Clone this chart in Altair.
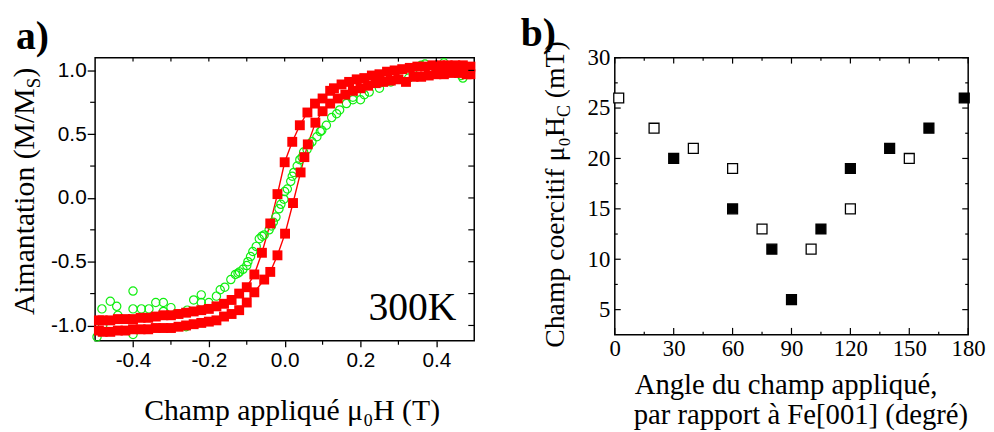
import altair as alt
import pandas as pd

# ---------------- panel a) : hysteresis loops ----------------
# red loop, descending branch (from +0.5 T to -0.5 T)
desc_h = [0.49, 0.47, 0.45, 0.43, 0.41, 0.39, 0.37, 0.35, 0.33, 0.31, 0.29, 0.27, 0.25,
          0.23, 0.21, 0.19, 0.17, 0.15, 0.13, 0.12, 0.10, 0.08, 0.06, 0.04, 0.02, 0.00,
          -0.019, -0.038, -0.06, -0.08, -0.10, -0.12, -0.14, -0.16, -0.18, -0.20, -0.22,
          -0.24, -0.26, -0.28, -0.30, -0.32, -0.34, -0.36, -0.38, -0.40, -0.42, -0.44,
          -0.46, -0.48, -0.49]
desc_m = [1.03, 1.04, 1.04, 1.04, 1.04, 1.04, 1.03, 1.03, 1.02, 1.01, 1.00, 0.99, 0.97,
          0.96, 0.94, 0.93, 0.91, 0.89, 0.86, 0.84, 0.78, 0.74, 0.67, 0.57, 0.44, 0.28,
          0.03, -0.20, -0.43, -0.60, -0.70, -0.75, -0.80, -0.83, -0.85, -0.87, -0.88,
          -0.89, -0.90, -0.91, -0.92, -0.92, -0.93, -0.94, -0.94, -0.95, -0.95, -0.95,
          -0.96, -0.96, -0.96]
# red loop, ascending branch (from -0.5 T to +0.5 T)
asc_h = [-0.49, -0.48, -0.46, -0.44, -0.42, -0.40, -0.38, -0.36, -0.34, -0.32, -0.30,
         -0.28, -0.26, -0.24, -0.22, -0.20, -0.18, -0.16, -0.14, -0.12, -0.10, -0.08,
         -0.054, -0.038, -0.019, 0.001, 0.022, 0.042, 0.052, 0.061, 0.081, 0.10, 0.12,
         0.14, 0.16, 0.18, 0.20, 0.22, 0.24, 0.26, 0.28, 0.30, 0.32, 0.34, 0.36, 0.38,
         0.40, 0.42, 0.44, 0.46, 0.48, 0.49]
asc_m = [-1.04, -1.05, -1.05, -1.04, -1.04, -1.03, -1.03, -1.03, -1.02, -1.02, -1.02,
         -1.01, -1.00, -0.99, -0.98, -0.97, -0.96, -0.93, -0.91, -0.88, -0.82, -0.74,
         -0.64, -0.58, -0.45, -0.28, -0.04, 0.20, 0.32, 0.42, 0.59, 0.68, 0.74,
         0.78, 0.81, 0.84, 0.86, 0.88, 0.90, 0.91, 0.92, 0.93, 0.91, 0.95, 0.95, 0.96,
         0.97, 0.97, 0.98, 0.98, 0.97, 0.97]
# green open circles
green_h = [-0.495, -0.482, -0.48, -0.46, -0.443, -0.44, -0.40, -0.40, -0.40, -0.378, -0.358,
           -0.34, -0.32, -0.32, -0.30, -0.279, -0.26, -0.257, -0.24, -0.22, -0.22, -0.20,
           -0.18, -0.17, -0.158, -0.142, -0.13, -0.123, -0.119, -0.11, -0.10, -0.097, -0.09,
           -0.084, -0.075, -0.067, -0.06, -0.054, -0.041, -0.035, -0.03, -0.023, -0.015,
           -0.01, -0.002, 0.0, 0.007, 0.016, 0.02, 0.024, 0.033, 0.04, 0.046, 0.05, 0.059,
           0.065, 0.072, 0.085, 0.094, 0.098, 0.11, 0.124, 0.137, 0.145, 0.163, 0.18, 0.18,
           0.20, 0.21, 0.223, 0.25, 0.25, 0.275, 0.28, 0.30, 0.327, 0.34, 0.36, 0.37, 0.40,
           0.42, 0.44, 0.466, 0.47, 0.49]
green_m = [-1.09, -0.87, -1.00, -0.81, -0.85, -0.92, -0.73, -0.87, -1.07, -0.87, -0.87,
           -0.82, -0.82, -0.89, -0.86, -0.91, -1.01, -0.88, -0.80, -0.76, -0.82, -0.82,
           -0.77, -0.72, -0.70, -0.64, -0.60, -0.59, -0.58, -0.56, -0.53, -0.50, -0.46,
           -0.42, -0.38, -0.32, -0.30, -0.29, -0.25, -0.22, -0.19, -0.15, -0.085,
           -0.05, -0.01, 0.05, 0.07, 0.13, 0.17, 0.20, 0.25, 0.30, 0.32, 0.36, 0.38,
           0.42, 0.44, 0.48, 0.52, 0.53, 0.57, 0.63, 0.66, 0.69, 0.74, 0.77, 0.79,
           0.77, 0.81, 0.83, 0.86, 0.90, 0.92, 0.91, 0.93, 0.94, 0.97, 1.04, 1.05, 1.00,
           1.06, 1.02, 0.96, 0.94, 0.98]

a_x_major = [-0.4, -0.2, 0.0, 0.2, 0.4]
a_x_minor = [-0.3, -0.1, 0.1, 0.3]
a_x_top = [-0.4, -0.3, -0.2, -0.1, 0.0, 0.1, 0.2, 0.3, 0.4]
a_y_major = [-1.0, -0.5, 0.0, 0.5, 1.0]
a_y_minor = [-0.75, -0.25, 0.25, 0.75]

# ---------------- panel b) : coercive field vs angle ----------------
open_angle = [2, 20, 40, 60, 75, 100, 120, 150]
open_hc = [26, 23, 21, 19, 13, 11, 15, 20]
filled_angle = [30, 60, 80, 90, 105, 120, 140, 160, 178]
filled_hc = [20, 15, 11, 6, 13, 19, 21, 23, 26]

b_x_major = [0, 30, 60, 90, 120, 150, 180]
b_x_minor = [15, 45, 75, 105, 135, 165]
b_y_major = [5, 10, 15, 20, 25, 30]
b_y_minor = [7.5, 12.5, 17.5, 22.5, 27.5]

# ---------------- styling ----------------
W1, H1 = 383, 286
W2, H2 = 357, 280
RED = "#ff0000"
GREEN = "#11ee11"
SERIF = "Liberation Serif"
SANS = "Liberation Sans"


def one():
    return pd.DataFrame({"d": [0]})


def txt(s, x, y, size, weight="normal", align="left", angle=0, dy=0):
    return alt.Chart(one()).mark_text(
        text=s, font=SERIF, fontSize=size, fontWeight=weight, align=align,
        baseline="alphabetic", angle=angle, dy=dy, color="black"
    ).encode(x=alt.value(x), y=alt.value(y))


minus_fix = "replace(datum.label, '\u2212', '-')"
ax_a_x = alt.Axis(values=a_x_major, format=".1f", labelExpr=minus_fix, title=None, grid=False,
                  domain=False, tickSize=6, tickWidth=1.3, tickColor="black",
                  labelFont=SANS, labelFontSize=21, labelColor="black", labelPadding=3,
                  labelFlush=False)
ax_a_y = alt.Axis(values=a_y_major, format=".1f", labelExpr=minus_fix, title=None, grid=False,
                  domain=False, tickSize=8, tickWidth=1.3, tickColor="black",
                  labelFont=SANS, labelFontSize=21, labelColor="black", labelPadding=1)
ax_b_x = alt.Axis(values=b_x_major, format="d", title=None, grid=False, domain=False,
                  ticks=False, tickSize=0, labelFont=SERIF, labelFontSize=23,
                  labelColor="black", labelPadding=3, labelFlush=False)
ax_b_y = alt.Axis(values=b_y_major, format="d", title=None, grid=False, domain=False,
                  ticks=False, tickSize=0, labelFont=SERIF, labelFontSize=23,
                  labelColor="black", labelPadding=5)


def XA(field):
    return alt.X(f"{field}:Q", scale=alt.Scale(domain=[-0.5, 0.5], nice=False, zero=False), axis=ax_a_x)


def YA(field):
    return alt.Y(f"{field}:Q", scale=alt.Scale(domain=[-1.12, 1.1], nice=False, zero=False), axis=ax_a_y)


def XB(field):
    return alt.X(f"{field}:Q", scale=alt.Scale(domain=[0, 180], nice=False, zero=False), axis=ax_b_x)


def YB(field):
    return alt.Y(f"{field}:Q", scale=alt.Scale(domain=[2.5, 30], nice=False, zero=False), axis=ax_b_y)


red_df = pd.DataFrame({
    "h": desc_h + asc_h,
    "m": desc_m + asc_m,
    "branch": ["desc"] * len(desc_h) + ["asc"] * len(asc_h),
    "i": list(range(len(desc_h))) + list(range(len(asc_h))),
})
green_df = pd.DataFrame({"h": green_h, "m": green_m})

red_line = alt.Chart(red_df).mark_line(color=RED, strokeWidth=1.4).encode(
    x=XA("h"), y=YA("m"), detail="branch:N", order="i:Q")
green_pts = alt.Chart(green_df).mark_point(
    shape="circle", filled=False, size=70, stroke=GREEN, strokeWidth=1.2, opacity=1
).encode(x=XA("h"), y=YA("m"))
red_pts = alt.Chart(red_df).mark_point(
    shape="square", filled=True, size=100, color=RED, opacity=1
).encode(x=XA("h"), y=YA("m"))


def vr(vals, xf, y1, y2):
    return alt.Chart(pd.DataFrame({"v": vals})).mark_rule(color="black", strokeWidth=1.2).encode(
        x=xf("v"), y=alt.value(y1), y2=alt.value(y2))


def hr(vals, yf, x1, x2):
    return alt.Chart(pd.DataFrame({"v": vals})).mark_rule(color="black", strokeWidth=1.2).encode(
        y=yf("v"), x=alt.value(x1), x2=alt.value(x2))


left = alt.layer(
    red_line, green_pts, red_pts,
    vr(a_x_minor, XA, H1, H1 + 4),
    vr(a_x_top, XA, 0, 4),
    hr(a_y_minor, YA, -5, 0),
    hr(a_y_major + a_y_minor, YA, W1, W1 - 6),
    txt("a)", -80, -9, 40, weight="bold"),
    txt("Aimantation (M/M", -62, 31, 30, align="right", angle=270),
    txt("S", -62, 31, 19, align="left", angle=270, dy=6),
    txt(")", -62, 20, 30, align="left", angle=270),
    txt("Champ appliqué μ₀H (T)", 199, 366, 30, align="center"),
    txt("300K", 365, 265, 40, align="right"),
).properties(width=W1, height=H1)

# ---- panel b
open_df = pd.DataFrame({"angle": open_angle, "hc": open_hc})
filled_df = pd.DataFrame({"angle": filled_angle, "hc": filled_hc})

open_pts = alt.Chart(open_df).mark_point(
    shape="square", filled=True, fill="white", stroke="black", strokeWidth=1.3, size=100, opacity=1
).encode(x=XB("angle"), y=YB("hc"))
filled_pts = alt.Chart(filled_df).mark_point(
    shape="square", filled=True, fill="black", stroke="black", strokeWidth=1.3, size=100, opacity=1
).encode(x=XB("angle"), y=YB("hc"))

right = alt.layer(
    open_pts, filled_pts,
    vr(b_x_major, XB, H2, H2 - 7),
    vr(b_x_minor, XB, H2, H2 - 3),
    vr(b_x_major, XB, 0, 6),
    vr(b_x_minor, XB, 0, 3),
    hr(b_y_major, YB, 0, 6),
    hr(b_y_minor, YB, 0, 3),
    hr(b_y_major, YB, W2, W2 - 6),
    hr(b_y_minor, YB, W2, W2 - 3),
    txt("b)", -95, -12, 40, weight="bold"),
    txt("Champ coercitif μ₀H", -51, 60, 28, align="right", angle=270),
    txt("C", -51, 60, 18, align="left", angle=270, dy=6),
    txt("(mT)", -51, 41, 28, align="left", angle=270),
    txt("Angle du champ appliqué,", 173, 340, 29, align="center"),
    txt("par rapport à Fe[001] (degré)", 188, 370, 29, align="center"),
).properties(width=W2, height=H2)

chart = alt.hconcat(left, right, spacing=42).properties(
    padding={"left": 1, "top": 3, "right": 0, "bottom": 0},
    background="white",
).configure_view(stroke="black", strokeWidth=1.5)

chart.save("out.html", embed_options={"renderer": "svg", "actions": False})
